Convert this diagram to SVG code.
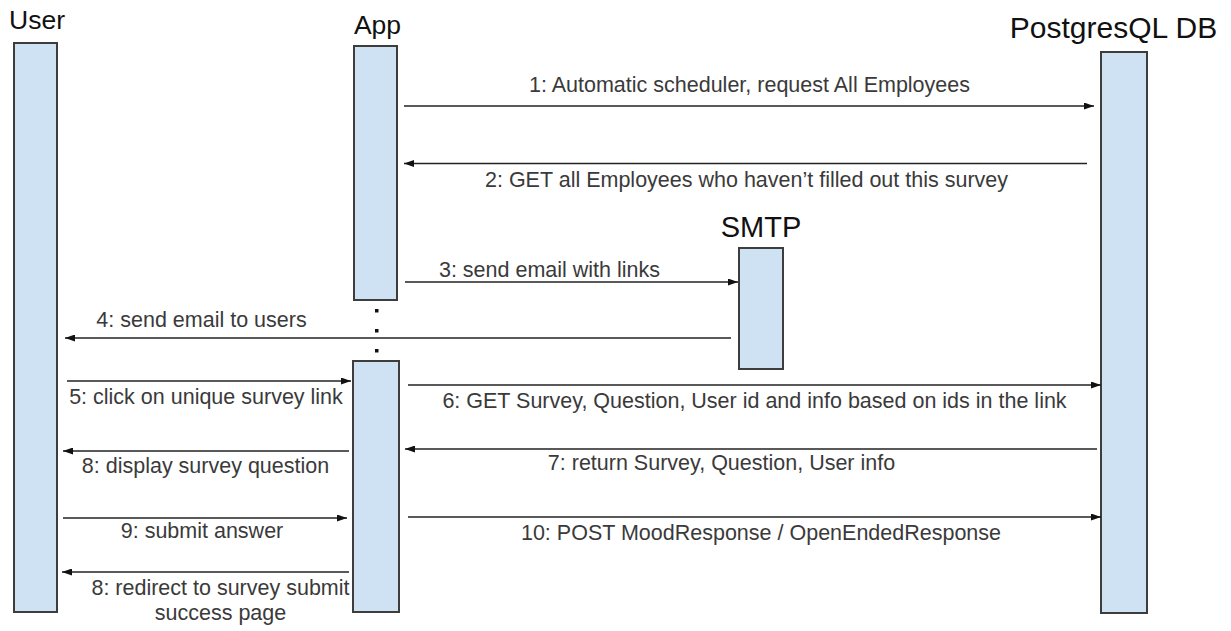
<svg xmlns="http://www.w3.org/2000/svg" width="1231" height="631" viewBox="0 0 1231 631">
<style>
.bar{fill:#cfe2f3;stroke:#3d3d3d;stroke-width:2}
.hdr{font-family:"Liberation Sans",Arial,sans-serif;fill:#111;text-anchor:middle}
.lbl{font-family:"Liberation Sans",Arial,sans-serif;font-size:21.5px;fill:#3a3a3a;text-anchor:middle}
.msg{stroke:#222;stroke-width:1.6;fill:none;marker-end:url(#ah)}
.dot{fill:#111}
</style>
<defs>
<marker id="ah" markerUnits="userSpaceOnUse" markerWidth="10" markerHeight="7" refX="10" refY="3.5" orient="auto">
<path d="M0,0 L10,3.5 L0,7 z" fill="#111"/>
</marker>
</defs>
<rect width="1231" height="631" fill="#fff"/>
<g id="user">
<rect class="bar" x="14" y="43" width="43" height="569"/>
<text class="hdr" x="37" y="29" font-size="26.5">User</text>
</g>
<g id="app">
<rect class="bar" x="354" y="46" width="43" height="254"/>
<rect class="bar" x="353" y="361" width="46" height="251"/>
<text class="hdr" x="377.5" y="34" font-size="26.5">App</text>
<rect class="dot" x="375" y="309" width="3.5" height="3.5"/>
<rect class="dot" x="375" y="329" width="3.5" height="3.5"/>
<rect class="dot" x="375" y="349" width="3.5" height="3.5"/>
</g>
<g id="db">
<rect class="bar" x="1101" y="52" width="46" height="561"/>
<text class="hdr" x="1113.5" y="38" font-size="30">PostgresQL DB</text>
</g>
<g id="smtp">
<rect class="bar" x="739" y="248" width="44" height="121"/>
<text class="hdr" x="761" y="237" font-size="29">SMTP</text>
</g>
<g id="connectors">
<line class="msg" x1="404" y1="106" x2="1094" y2="106"/>
<line class="msg" x1="1087" y1="163.5" x2="404" y2="163.5"/>
<line class="msg" x1="405" y1="282" x2="738" y2="282"/>
<line class="msg" x1="731" y1="338" x2="65" y2="338"/>
<line class="msg" x1="67" y1="381" x2="351" y2="381"/>
<line class="msg" x1="408" y1="385" x2="1101" y2="385"/>
<line class="msg" x1="1097" y1="449" x2="405" y2="449"/>
<line class="msg" x1="349" y1="451" x2="63" y2="451"/>
<line class="msg" x1="63" y1="518" x2="347" y2="518"/>
<line class="msg" x1="408" y1="517" x2="1101" y2="517"/>
<line class="msg" x1="349" y1="572" x2="62" y2="572"/>
</g>
<g id="labels">
<text class="lbl" x="749.5" y="92">1: Automatic scheduler, request All Employees</text>
<text class="lbl" x="746.5" y="186.5">2: GET all Employees who haven’t filled out this survey</text>
<text class="lbl" x="549.5" y="277">3: send email with links</text>
<text class="lbl" x="201.5" y="326.5">4: send email to users</text>
<text class="lbl" x="206" y="404">5: click on unique survey link</text>
<text class="lbl" x="754.5" y="408">6: GET Survey, Question, User id and info based on ids in the link</text>
<text class="lbl" x="721.5" y="470">7: return Survey, Question, User info</text>
<text class="lbl" x="205.5" y="473">8: display survey question</text>
<text class="lbl" x="202" y="538">9: submit answer</text>
<text class="lbl" x="761" y="540">10: POST MoodResponse / OpenEndedResponse</text>
<text class="lbl" x="220.5" y="595">8: redirect to survey submit</text>
<text class="lbl" x="220.5" y="620">success page</text>
</g>
</svg>
